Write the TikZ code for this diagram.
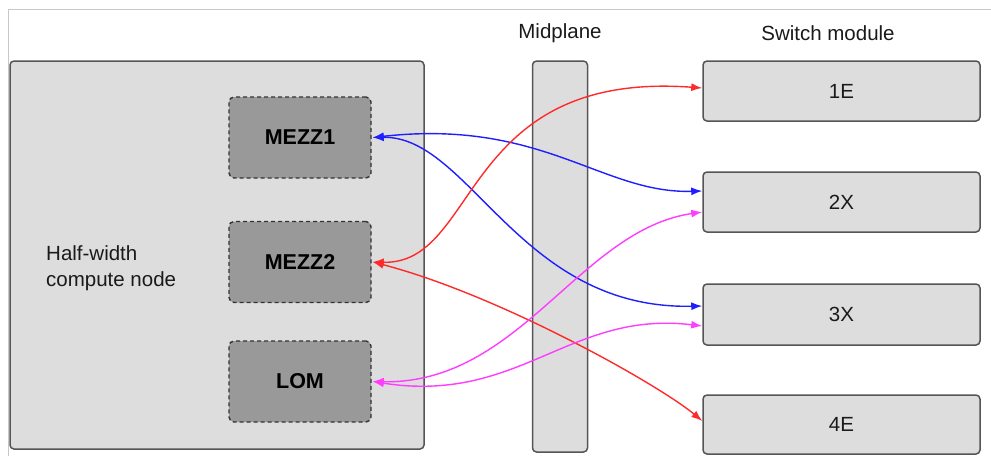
\documentclass[tikz,border=0pt]{standalone}
\usepackage{fontspec}
\setmainfont{Liberation Sans}
\usetikzlibrary{arrows.meta}
\definecolor{boxfill}{HTML}{DDDDDD}
\definecolor{boxline}{HTML}{555555}
\definecolor{cardfill}{HTML}{999999}
\definecolor{cardline}{HTML}{333333}
\definecolor{linkblue}{HTML}{1E1EFF}
\definecolor{linkred}{HTML}{FF2A2A}
\definecolor{linkmag}{HTML}{FF3CFF}
\definecolor{txt}{HTML}{1A1A1A}
\tikzset{
  panel/.style={draw=boxline, fill=boxfill, line width=1.5pt, rounded corners=4pt, inner sep=0pt},
  card/.style={draw=cardline, fill=cardfill, line width=1.4pt, dash pattern=on 4pt off 3pt, rounded corners=5pt,
    minimum width=142pt, minimum height=81pt, inner sep=0pt, font=\fontsize{21.5}{26}\selectfont\bfseries, text=black},
  swbox/.style={panel, minimum width=277pt, minimum height=60pt, font=\fontsize{20.5}{26}\selectfont, text=txt},
  lbl/.style={font=\fontsize{20.5}{26}\selectfont, text=txt, inner sep=0pt},
  link/.style={line width=1.4pt, {Latex[length=11pt,width=8pt]}-{Latex[length=11pt,width=8pt]}},
}
\begin{document}
\begin{tikzpicture}[x=1pt,y=-1pt]
\useasboundingbox (0,0) rectangle (991,456);
% frame lines
\coordinate (ftl) at (8,9);
\coordinate (ftr) at (991,9);
\coordinate (fbl) at (8,456);
\draw[draw=black!22, line width=0.9pt] (fbl) -- (ftl) -- (ftr);
% compute node
\node[panel, minimum width=414pt, minimum height=388pt] (comp) at (217,255) {};
\node[lbl, anchor=west, align=left] (complbl) at (46,268) {Half-width\\compute node};
\node[card] (mezz1) at (300,137.5) {MEZZ1};
\node[card] (mezz2) at (300,262) {MEZZ2};
\node[card] (lom) at (300,381.5) {LOM};
% midplane
\node[panel, minimum width=55pt, minimum height=391pt] (mid) at (560,256.5) {};
\node[lbl] (midlbl) at (560,33) {Midplane};
% switch modules
\node[lbl] (swlbl) at (828,33) {Switch module};
\node[swbox] (s1) at (841.5,91) {1E};
\node[swbox] (s2) at (841.5,202) {2X};
\node[swbox, minimum height=61pt] (s3) at (841.5,314.5) {3X};
\node[swbox, minimum height=59pt] (s4) at (841.5,424.5) {4E};
% links
\draw[link, linkblue] ([xshift=1pt]mezz1.east) .. controls +(170,-19) and +(-100,3) .. ([yshift=11pt]s2.west);
\draw[link, linkblue] ([xshift=1pt]mezz1.east) .. controls +(97,-2) and +(-183,4) .. ([yshift=8.5pt]s3.west);
\draw[link, linkred] ([xshift=1pt]mezz2.east) .. controls +(107,3) and +(-243,-18) .. ([yshift=3pt]s1.west);
\draw[link, linkred] ([xshift=1pt]mezz2.east) .. controls +(127,33) and +(-43,-36) .. ([yshift=3.5pt]s4.west);
\draw[link, linkmag] ([xshift=1pt]lom.east) .. controls +(147,3) and +(-123,18) .. ([yshift=-10pt]s2.west);
\draw[link, linkmag] ([xshift=1pt]lom.east) .. controls +(147,23) and +(-133,-16) .. ([yshift=-11.5pt]s3.west);
\end{tikzpicture}
\end{document}
